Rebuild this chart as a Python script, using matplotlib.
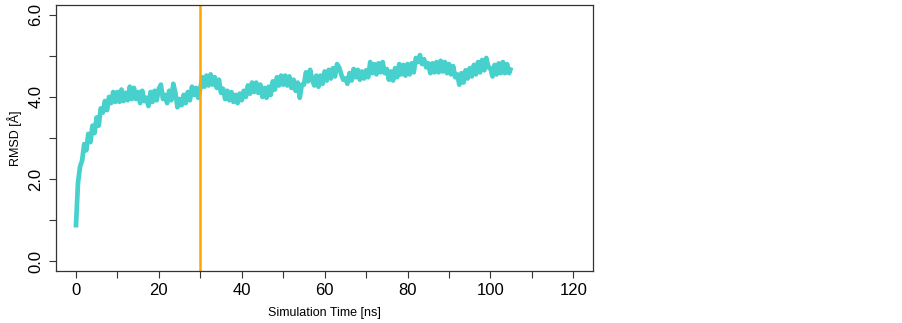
import numpy as np
import matplotlib
matplotlib.use("Agg")
import matplotlib.pyplot as plt

plt.rcParams['font.family'] = ['Liberation Sans', 'DejaVu Sans']
plt.rcParams['path.simplify'] = False

# RMSD values, one every 0.5 ns (0 .. 105 ns)
rmsd = [
    0.82, 1.90, 2.30, 2.45, 2.85, 2.70, 3.10, 2.90, 3.30, 3.12,
    3.50, 3.30, 3.72, 3.62, 3.90, 3.68, 4.00, 3.85, 4.12, 3.88,
    4.12, 3.88, 4.18, 3.90, 4.10, 3.92, 4.25, 3.95, 4.22, 3.95,
    4.12, 3.85, 4.15, 3.90, 3.98, 3.78, 4.12, 3.88, 4.15, 3.92,
    4.20, 4.30, 3.95, 4.05, 3.85, 4.15, 3.92, 4.32, 4.10, 3.75,
    3.95, 3.80, 4.05, 3.85, 4.12, 3.92, 4.25, 4.05, 4.22, 3.98,
    4.20, 4.48, 4.25, 4.52, 4.28, 4.55, 4.30, 4.48, 4.22, 4.42,
    4.10, 4.20, 3.95, 4.15, 3.92, 4.12, 3.88, 4.05, 3.85, 4.08,
    3.92, 4.15, 4.00, 4.28, 4.08, 4.35, 4.12, 4.35, 4.10, 4.30,
    4.00, 4.22, 3.98, 4.25, 4.05, 4.38, 4.18, 4.48, 4.28, 4.52,
    4.30, 4.52, 4.28, 4.50, 4.22, 4.42, 4.15, 4.35, 3.98, 4.30,
    4.30, 4.60, 4.38, 4.66, 4.42, 4.28, 4.52, 4.25, 4.52, 4.32,
    4.62, 4.40, 4.66, 4.45, 4.70, 4.50, 4.80, 4.72, 4.55, 4.42,
    4.45, 4.32, 4.58, 4.40, 4.68, 4.48, 4.66, 4.42, 4.62, 4.45,
    4.65, 4.48, 4.85, 4.58, 4.80, 4.55, 4.82, 4.60, 4.85, 4.58,
    4.68, 4.42, 4.62, 4.40, 4.70, 4.48, 4.80, 4.55, 4.78, 4.52,
    4.80, 4.55, 4.82, 4.60, 4.95, 4.85, 5.02, 4.80, 4.92, 4.72,
    4.82, 4.58, 4.82, 4.60, 4.85, 4.60, 4.88, 4.62, 4.85, 4.58,
    4.80, 4.55, 4.75, 4.48, 4.55, 4.30, 4.58, 4.35, 4.65, 4.45,
    4.70, 4.50, 4.78, 4.55, 4.85, 4.60, 4.90, 4.65, 4.95, 4.72,
    4.70, 4.50, 4.78, 4.55, 4.82, 4.58, 4.85, 4.58, 4.80, 4.58,
    4.72,
]
time_ns = np.arange(len(rmsd)) * 0.5
marker_time = 30

x_ticks = [0, 10, 20, 30, 40, 50, 60, 70, 80, 90, 100, 110, 120]
x_labels = ['0', '', '20', '', '40', '', '60', '', '80', '', '100', '', '120']
y_ticks = [0, 1, 2, 3, 4, 5, 6]
y_labels = ['0.0', '', '2.0', '', '4.0', '', '6.0']

fig = plt.figure(figsize=(9.03, 3.23), dpi=100)
ax = fig.add_axes([0.062, 0.161, 0.595, 0.8235])

ax.plot(time_ns, rmsd, color='#48D1CC', lw=3.4,
        solid_joinstyle='round', solid_capstyle='butt')
ax.axvline(marker_time, color='#FFA500', lw=1.8)

ax.set_xlim(-4.8, 124.8)
ax.set_ylim(-0.24, 6.24)
ax.set_xticks(x_ticks)
ax.set_xticklabels(x_labels, fontsize=12)
ax.set_yticks(y_ticks)
ax.set_yticklabels(y_labels, fontsize=12, rotation=90, va='center')
ax.tick_params(direction='out', length=5, width=0.8, color='#333333', pad=4)

for s in ax.spines.values():
    s.set_color('#333333')
    s.set_linewidth(0.9)

ax.set_xlabel('Simulation Time [ns]', fontsize=9, labelpad=6)
ax.set_ylabel('RMSD [Å]', fontsize=9, labelpad=5)

fig.savefig('out.png', dpi=100)
